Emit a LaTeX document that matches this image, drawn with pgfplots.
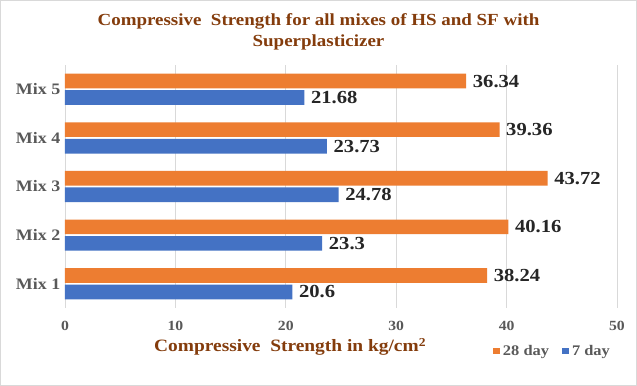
\documentclass[border=0pt]{standalone}
\usepackage{fontspec}
\setmainfont{Liberation Serif}[FakeStretch=1.12]
\usepackage{pgfplots}
\pgfplotsset{compat=1.18}
\definecolor{cor}{HTML}{ED7D31}
\definecolor{cbl}{HTML}{4472C4}
\definecolor{ctitle}{HTML}{843C0C}
\definecolor{ctick}{HTML}{595959}
\definecolor{cgrid}{HTML}{D9D9D9}
\begin{document}
\begin{tikzpicture}
\draw[draw=cgrid, line width=0.8pt, fill=white] (0.4pt,0.4pt) rectangle (477.35pt,289.1pt);
\node[align=center, font=\bfseries\fontsize{12.7}{16}\selectfont, text=ctitle] at (238.875pt,265.8pt)
  {Compressive\ \ Strength for all mixes of HS and SF with\\Superplasticizer};
\begin{axis}[
  at={(48.75pt,58.5pt)}, anchor=south west,
  scale only axis, width=414pt, height=182.25pt,
  xbar, bar width=11pt,
  xmin=0, xmax=50, ymin=0.5, ymax=5.5,
  xtick={0,10,20,30,40,50},
  ytick={1,2,3,4,5},
  yticklabels={Mix 1,Mix 2,Mix 3,Mix 4,Mix 5},
  axis line style={draw=none},
  major tick length=0pt,
  xmajorgrids, grid style={cgrid, line width=0.6pt},
  /pgf/number format/assume math mode=true,
  xticklabel style={font=\bfseries\fontsize{10.5}{12}\selectfont, text=ctick, yshift=-6pt},
  yticklabel style={font=\bfseries\fontsize{12}{13}\selectfont, text=ctick, xshift=0pt},
  xlabel={Compressive\ \ Strength in kg/cm\textsuperscript{2}},
  xlabel style={at={(axis description cs:0.408,-0.16)}, anchor=center,
    font=\bfseries\fontsize{13}{15}\selectfont, text=ctitle},
  nodes near coords,
  nodes near coords style={font=\bfseries\fontsize{13.8}{15}\selectfont, text=black!85, anchor=west, xshift=1.5pt},
  legend columns=2,
  legend style={at={(0.884,-0.177)}, anchor=center, draw=none, fill=none,
    font=\bfseries\fontsize{11}{13}\selectfont, text=ctick,
    /tikz/every even column/.append style={column sep=8pt}},
  legend image code/.code={\fill[#1] (0pt,-2.6pt) rectangle (5.2pt,2.6pt);},
]
\addplot[draw=none, fill=cor, bar shift=6.2pt] coordinates {(38.24,1) (40.16,2) (43.72,3) (39.36,4) (36.34,5)};
\addlegendentry{28 day}
\addplot[draw=none, fill=cbl, bar shift=-6.2pt] coordinates {(20.6,1) (23.3,2) (24.78,3) (23.73,4) (21.68,5)};
\addlegendentry{7 day}
\end{axis}
\end{tikzpicture}
\end{document}
